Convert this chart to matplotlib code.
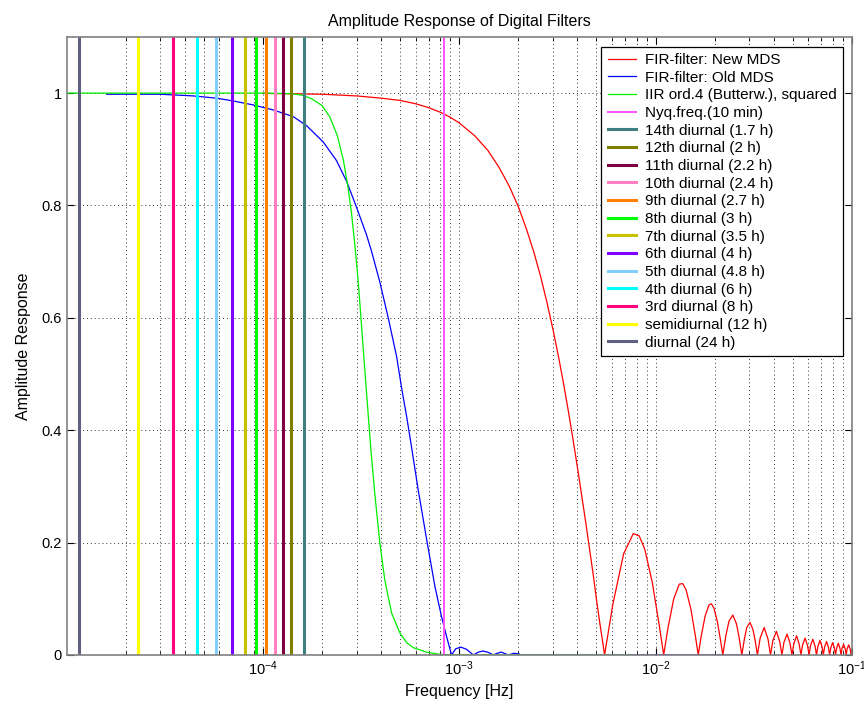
import matplotlib
matplotlib.use("AGG")
import matplotlib.pyplot as plt
from matplotlib.ticker import LogLocator, FuncFormatter, NullFormatter, FixedLocator

plt.rcParams["font.family"] = ["Liberation Sans", "DejaVu Sans"]

# FIR-filter: New MDS
new_f = [1.0e-4, 2.0e-4, 3.0e-4, 4.0e-4, 5.0e-4, 6.0e-4, 7.0e-4, 8.0e-4, 9.0e-4,
         1.0e-3, 1.2e-3, 1.4e-3, 1.6e-3, 1.8e-3, 2.0e-3, 2.2e-3, 2.4e-3, 2.6e-3,
         2.8e-3, 3.0e-3, 3.2e-3, 3.4e-3, 3.6e-3, 3.8e-3, 4.0e-3, 4.2e-3, 4.4e-3,
         4.6e-3, 4.8e-3, 5.0e-3, 5.2e-3, 5.4e-3, 5.5e-3,
         6.05e-3, 6.875e-3, 7.7e-3, 8.25e-3, 8.8e-3, 9.625e-3, 1.045e-2, 1.1e-2,
         1.155e-2, 1.2375e-2, 1.32e-2, 1.375e-2, 1.43e-2, 1.5125e-2, 1.595e-2, 1.65e-2,
         1.705e-2, 1.7875e-2, 1.87e-2, 1.925e-2, 1.98e-2, 2.0625e-2, 2.145e-2, 2.2e-2,
         2.2825e-2, 2.365e-2, 2.475e-2, 2.585e-2, 2.6675e-2, 2.75e-2,
         2.8325e-2, 2.915e-2, 3.025e-2, 3.135e-2, 3.2175e-2, 3.3e-2,
         3.41e-2, 3.575e-2, 3.74e-2, 3.85e-2,
         3.96e-2, 4.125e-2, 4.29e-2, 4.4e-2,
         4.51e-2, 4.675e-2, 4.84e-2, 4.95e-2,
         5.06e-2, 5.225e-2, 5.39e-2, 5.5e-2,
         5.61e-2, 5.775e-2, 5.94e-2, 6.05e-2,
         6.16e-2, 6.325e-2, 6.49e-2, 6.6e-2,
         6.71e-2, 6.875e-2, 7.04e-2, 7.15e-2,
         7.26e-2, 7.425e-2, 7.59e-2, 7.7e-2,
         7.81e-2, 7.975e-2, 8.14e-2, 8.25e-2,
         8.36e-2, 8.525e-2, 8.69e-2, 8.8e-2,
         8.91e-2, 9.075e-2, 9.24e-2, 9.35e-2,
         9.46e-2, 9.625e-2, 9.79e-2, 9.9e-2,
         1.001e-1]
new_a = [0.9995, 0.998, 0.995, 0.991, 0.987, 0.981, 0.974, 0.966, 0.957,
         0.947, 0.924, 0.898, 0.867, 0.834, 0.798, 0.758, 0.717, 0.673,
         0.627, 0.580, 0.532, 0.483, 0.433, 0.383, 0.334, 0.285, 0.238,
         0.191, 0.146, 0.099, 0.057, 0.019, 0.0,
         0.089, 0.180, 0.216, 0.212, 0.189, 0.129, 0.052, 0.0,
         0.047, 0.100, 0.126, 0.127, 0.116, 0.082, 0.034, 0.0,
         0.032, 0.069, 0.089, 0.091, 0.084, 0.060, 0.025, 0.0,
         0.035, 0.060, 0.071, 0.055, 0.030, 0.0,
         0.028, 0.049, 0.058, 0.045, 0.025, 0.0,
         0.030, 0.049, 0.028, 0.0,
         0.026, 0.042, 0.024, 0.0,
         0.023, 0.037, 0.021, 0.0,
         0.020, 0.034, 0.019, 0.0,
         0.018, 0.030, 0.017, 0.0,
         0.017, 0.028, 0.016, 0.0,
         0.015, 0.026, 0.015, 0.0,
         0.014, 0.024, 0.014, 0.0,
         0.013, 0.022, 0.013, 0.0,
         0.012, 0.021, 0.012, 0.0,
         0.012, 0.019, 0.011, 0.0,
         0.011, 0.018, 0.011, 0.0,
         0.010]

# FIR-filter: Old MDS
old_f = [1.6e-5, 2.99e-5, 4.42e-5, 5.81e-5, 7.06e-5, 8.92e-5, 1.13e-4, 1.43e-4,
         1.67e-4, 2.03e-4, 2.37e-4, 2.67e-4, 2.99e-4, 3.37e-4, 3.58e-4, 3.94e-4,
         4.35e-4, 4.80e-4, 5.09e-4, 5.40e-4, 5.61e-4, 6.18e-4, 6.83e-4, 7.52e-4,
         8.13e-4, 8.62e-4, 9.14e-4, 9.6e-4, 1.02e-3, 1.09e-3, 1.18e-3, 1.25e-3,
         1.32e-3, 1.40e-3, 1.49e-3, 1.56e-3, 1.64e-3, 1.78e-3, 1.9e-3, 2.0e-3,
         2.08e-3, 3.3e-2]
old_a = [0.998, 0.998, 0.995, 0.991, 0.986, 0.979, 0.970, 0.958,
         0.942, 0.913, 0.880, 0.843, 0.798, 0.748, 0.718, 0.664,
         0.600, 0.531, 0.475, 0.424, 0.388, 0.294, 0.205, 0.122,
         0.068, 0.033, 0.0, 0.011, 0.014, 0.010, 0.0, 0.005,
         0.007, 0.005, 0.0, 0.003, 0.005, 0.0, 0.003, 0.002,
         0.0, 0.0]

# IIR ord.4 (Butterworth), squared
iir_f = [1.0e-5, 1.0e-4, 1.4e-4, 1.6e-4, 1.77e-4, 2.0e-4, 2.19e-4, 2.39e-4, 2.57e-4,
         2.72e-4, 2.83e-4, 2.94e-4, 3.05e-4, 3.12e-4, 3.24e-4, 3.37e-4, 3.47e-4,
         3.55e-4, 3.72e-4, 3.94e-4, 4.18e-4, 4.53e-4, 4.99e-4, 5.4e-4, 5.84e-4,
         6.83e-4, 8.0e-4, 1.0e-3, 7.4e-3]
iir_a = [1.0, 1.0, 0.999, 0.996, 0.990, 0.978, 0.958, 0.925, 0.881,
         0.830, 0.785, 0.730, 0.670, 0.625, 0.548, 0.468, 0.410,
         0.365, 0.285, 0.200, 0.133, 0.074, 0.039, 0.022, 0.013,
         0.005, 0.001, 0.0, 0.0]

# tidal harmonics (cycles per day) and Nyquist of 10 min sampling
harm_n = [14, 12, 11, 10, 9, 8, 7, 6, 5, 4, 3, 2, 1]
harm_labels = ["14th diurnal (1.7 h)", "12th diurnal (2 h)", "11th diurnal (2.2 h)",
               "10th diurnal (2.4 h)", "9th diurnal (2.7 h)", "8th diurnal (3 h)",
               "7th diurnal (3.5 h)", "6th diurnal (4 h)", "5th diurnal (4.8 h)",
               "4th diurnal (6 h)", "3rd diurnal (8 h)", "semidiurnal (12 h)",
               "diurnal (24 h)"]
harm_colors = ["#3f7f7f", "#7f7f00", "#7f0040", "#ff80c0", "#ff8000", "#00ff00",
               "#c8c000", "#8000ff", "#80d0ff", "#00ffff", "#ff0080", "#ffff00",
               "#606080"]
sample_min = 10

fig = plt.figure(figsize=(8.64, 7.10), dpi=100)
ax = fig.add_axes([0.0775, 0.0775, 0.9085, 0.8705])

ax.plot(new_f, new_a, color="#ff0000", lw=0.9, label="FIR-filter: New MDS", zorder=3)
ax.plot(old_f, old_a, color="#0000ff", lw=0.9, label="FIR-filter: Old MDS", zorder=3)
ax.plot(iir_f, iir_a, color="#00ee00", lw=0.9, label="IIR ord.4 (Butterw.), squared", zorder=3)
ax.axvline(1.0 / (2 * sample_min * 60), color="#ff50ff", lw=1.4,
           label="Nyq.freq.(10 min)", zorder=4)
for n, lab, c in zip(harm_n, harm_labels, harm_colors):
    ax.axvline(n / 86400.0, color=c, lw=2.2, label=lab, zorder=4)

ax.set_xscale("log")
ax.set_xlim(1.005e-5, 1e-1)
ax.set_ylim(0, 1.1)
ax.xaxis.set_major_locator(FixedLocator([1e-4, 1e-3, 1e-2, 1e-1]))
ax.xaxis.set_minor_locator(LogLocator(base=10, subs=range(2, 10), numticks=20))
ax.xaxis.set_minor_formatter(NullFormatter())
ax.set_yticks([0, 0.2, 0.4, 0.6, 0.8, 1.0])
ax.yaxis.set_major_formatter(FuncFormatter(lambda v, p: "%g" % v))

ax.grid(True, which="major", axis="both", color="#333333", ls=(0, (1, 3)), lw=0.7)
ax.grid(True, which="minor", axis="x", color="#333333", ls=(0, (1, 3)), lw=0.7)
ax.tick_params(which="both", direction="in", top=True, right=True, labelsize=10.5)
ax.tick_params(which="major", length=5)
ax.tick_params(which="minor", length=3)
for sp in ax.spines.values():
    sp.set_color("#808080")
    sp.set_linewidth(1.2)
    sp.set_zorder(5)

ax.set_title("Amplitude Response of Digital Filters", fontsize=11.5, pad=8)
ax.set_xlabel("Frequency [Hz]", fontsize=11.5, labelpad=4)
ax.set_ylabel("Amplitude Response", fontsize=11.5, labelpad=8)

leg = ax.legend(loc="upper right", bbox_to_anchor=(0.9885, 0.9838), borderaxespad=0,
                fontsize=11, labelspacing=0.24, handlelength=1.85, handletextpad=0.6,
                fancybox=False, edgecolor="black", framealpha=1, borderpad=0.4)
leg.get_frame().set_linewidth(0.9)
leg.set_zorder(10)

fig.savefig("out.png", dpi=100)
